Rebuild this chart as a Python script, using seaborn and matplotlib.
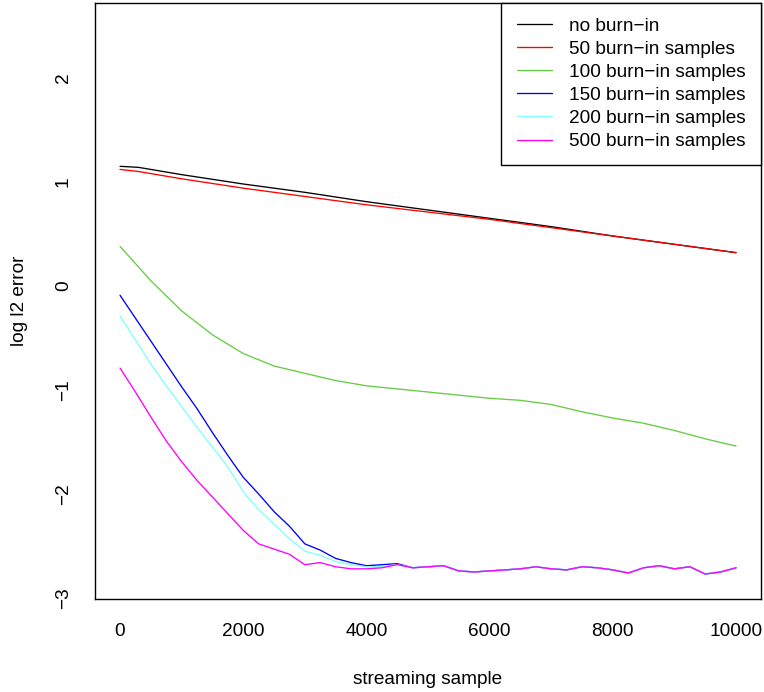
import numpy as np
import pandas as pd
import matplotlib
matplotlib.use("Agg")
import matplotlib.pyplot as plt
import seaborn as sns

# -----------------------------
# Data
# -----------------------------
series_names = [
    "no burn\u2212in",
    "50 burn\u2212in samples",
    "100 burn\u2212in samples",
    "150 burn\u2212in samples",
    "200 burn\u2212in samples",
    "500 burn\u2212in samples",
]
series_colors = ["#000000", "#FF0000", "#66CC44", "#0000FF", "#7FFFFF", "#FF00FF"]

# slow curves (no burn-in / 50 burn-in)
x_slow = [0, 300, 1000, 2000, 3000, 4000, 5000, 6000, 7000, 8000, 9000, 10000]
no_burn = [1.15, 1.14, 1.07, 0.98, 0.90, 0.81, 0.73, 0.65, 0.57, 0.48, 0.40, 0.32]
burn_50 = [1.12, 1.10, 1.03, 0.94, 0.86, 0.78, 0.71, 0.64, 0.56, 0.48, 0.40, 0.32]

# 100 burn-in
x_green = [0, 500, 1000, 1500, 2000, 2500, 3000, 3500, 4000, 4500, 5000,
           5500, 6000, 6500, 7000, 7500, 8000, 8500, 9000, 9500, 10000]
burn_100 = [0.38, 0.05, -0.24, -0.47, -0.65, -0.77, -0.84, -0.91, -0.96, -0.99, -1.02,
            -1.05, -1.08, -1.10, -1.14, -1.21, -1.27, -1.32, -1.39, -1.47, -1.54]

# fast curves (150 / 200 / 500 burn-in), first part
x_fast = [0, 250, 500, 750, 1000, 1250, 1500, 1750, 2000, 2250, 2500,
          2750, 3000, 3250, 3500, 3750, 4000, 4250, 4500]
burn_150 = [-0.09, -0.31, -0.53, -0.75, -0.97, -1.18, -1.41, -1.63, -1.84, -2.00, -2.17,
            -2.31, -2.48, -2.54, -2.62, -2.66, -2.69, -2.68, -2.67]
burn_200 = [-0.29, -0.52, -0.75, -0.96, -1.16, -1.36, -1.55, -1.74, -1.98, -2.15, -2.29,
            -2.43, -2.55, -2.59, -2.65, -2.68, -2.70, -2.70, -2.68]
burn_500 = [-0.79, -1.02, -1.26, -1.49, -1.69, -1.87, -2.03, -2.19, -2.35, -2.48, -2.53,
            -2.58, -2.68, -2.66, -2.70, -2.72, -2.72, -2.71, -2.68]

# shared noisy plateau of the fast curves
x_tail = [4750, 5000, 5250, 5500, 5750, 6000, 6250, 6500, 6750, 7000, 7250,
          7500, 7750, 8000, 8250, 8500, 8750, 9000, 9250, 9500, 9750, 10000]
tail = [-2.71, -2.70, -2.69, -2.74, -2.75, -2.74, -2.73, -2.72, -2.70, -2.72, -2.73,
        -2.70, -2.71, -2.73, -2.76, -2.71, -2.69, -2.72, -2.70, -2.77, -2.75, -2.71]

xticks = [0, 2000, 4000, 6000, 8000, 10000]
yticks = [-3, -2, -1, 0, 1, 2]


def build_frame() -> pd.DataFrame:
    parts = [
        (series_names[0], x_slow, no_burn),
        (series_names[1], x_slow, burn_50),
        (series_names[2], x_green, burn_100),
        (series_names[3], x_fast + x_tail, burn_150 + tail),
        (series_names[4], x_fast + x_tail, burn_200 + tail),
        (series_names[5], x_fast + x_tail, burn_500 + tail),
    ]
    frames = [pd.DataFrame({"sample": xs, "err": ys, "series": name}) for name, xs, ys in parts]
    return pd.concat(frames, ignore_index=True)


df = build_frame()

sns.set_theme(style="white")
plt.rcParams["font.family"] = ["Liberation Sans", "DejaVu Sans"]
plt.rcParams["axes.unicode_minus"] = True
plt.rcParams["text.color"] = "black"

W, H = 764, 692
fig = plt.figure(figsize=(W / 100, H / 100), dpi=100)
# axes box in pixels: x 95.4..760.7, y 2.5..599
ax = fig.add_axes([95.4 / W, 1 - 599 / H, 665.3 / W, 596.5 / H])

sns.lineplot(
    data=df, x="sample", y="err", hue="series",
    hue_order=series_names, palette=dict(zip(series_names, series_colors)),
    estimator=None, sort=False, linewidth=0.95, ax=ax,
)

ax.set_xlim(-400, 10400)
ax.set_ylim(-3.01, 2.725)
ax.set_xticks(xticks)
ax.set_yticks(yticks)
ax.set_xticklabels([str(v) for v in xticks])
ax.set_yticklabels([str(v).replace("-", "\u2212") for v in yticks], rotation=90, va="center")

for s in ax.spines.values():
    s.set_color("black")
    s.set_linewidth(1.0)

ax.tick_params(axis="both", which="major", direction="out", length=9, width=1.0,
               color="black", labelsize=13.7, labelcolor="black")
ax.tick_params(axis="x", pad=8)
ax.tick_params(axis="y", pad=8)

ax.set_xlabel("streaming sample", fontsize=13.7, color="black", va="center")
ax.set_ylabel("log l2 error", fontsize=13.7, color="black", va="center")
ax.xaxis.set_label_coords(0.5, -(680 - 599) / 596.5)
ax.yaxis.set_label_coords(-(96 - 20) / 665.3, 0.5)

handles, labels = ax.get_legend_handles_labels()
leg = ax.legend(
    handles, labels, loc="upper right", borderaxespad=0, fontsize=13.7,
    frameon=True, fancybox=False, framealpha=1, edgecolor="black",
    handlelength=1.85, handletextpad=0.9, borderpad=0.8, labelspacing=0.3,
)
leg.get_frame().set_linewidth(1.0)
for t in leg.get_texts():
    t.set_color("black")

fig.savefig("out.png", dpi=100)
